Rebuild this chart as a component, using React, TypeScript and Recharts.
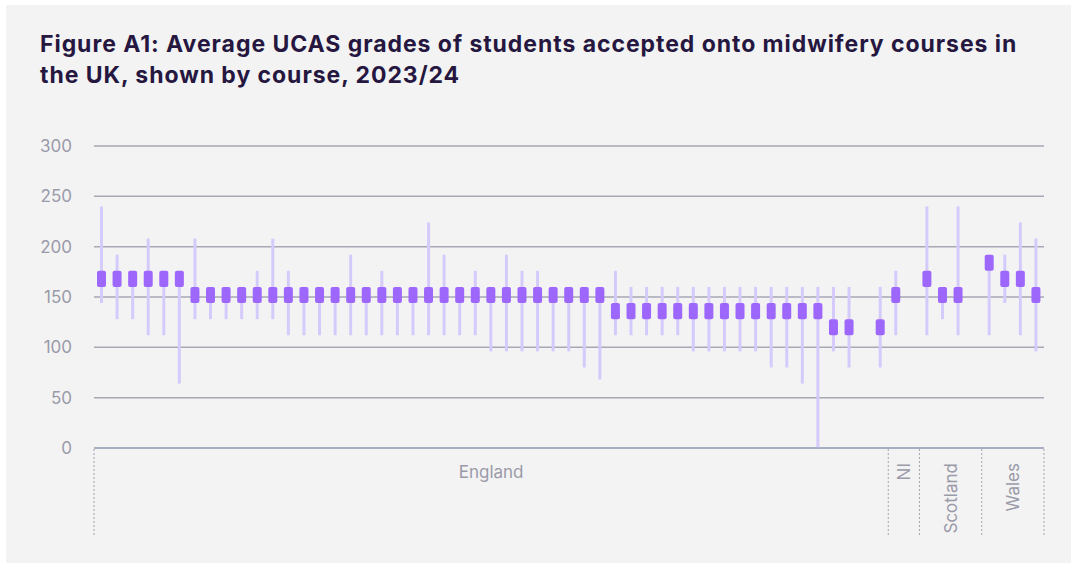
import React from "react";
import { ComposedChart, Bar, XAxis, YAxis, CartesianGrid } from "recharts";

// ---- Data ----
const courses: string[] = Array.from({ length: 61 }, (_, i) => `C${i + 1}`);

const boxLow: (number | null)[] = [
  160, 160, 160, 160, 160, 160,
  144, 144, 144, 144, 144, 144, 144, 144, 144, 144,
  144, 144, 144, 144, 144, 144, 144, 144, 144, 144,
  144, 144, 144, 144, 144, 144, 144,
  128, 128, 128, 128, 128, 128, 128, 128, 128, 128, 128, 128, 128, 128,
  112, 112, null, 112,
  144, null,
  160, 144, 144, null,
  176, 160, 160, 144,
];
const boxHigh: (number | null)[] = [
  176, 176, 176, 176, 176, 176,
  160, 160, 160, 160, 160, 160, 160, 160, 160, 160,
  160, 160, 160, 160, 160, 160, 160, 160, 160, 160,
  160, 160, 160, 160, 160, 160, 160,
  144, 144, 144, 144, 144, 144, 144, 144, 144, 144, 144, 144, 144, 144,
  128, 128, null, 128,
  160, null,
  176, 160, 160, null,
  192, 176, 176, 160,
];
const whiskerLow: (number | null)[] = [
  144, 128, 128, 112, 112, 64,
  128, 128, 128, 128, 128, 128, 112, 112, 112, 112,
  112, 112, 112, 112, 112, 112, 112, 112, 112, 96,
  96, 96, 96, 96, 96, 80, 68,
  112, 112, 112, 112, 112, 96, 96, 96, 96, 96, 80, 80, 64, 0,
  96, 80, null, 80,
  112, null,
  112, 128, 112, null,
  112, 144, 112, 96,
];
const whiskerHigh: (number | null)[] = [
  240, 192, 176, 208, 176, 176,
  208, 160, 160, 160, 176, 208, 176, 160, 160, 160,
  192, 160, 176, 160, 160, 224, 192, 160, 176, 160,
  192, 176, 176, 160, 160, 160, 160,
  176, 160, 160, 160, 160, 160, 160, 160, 160, 160, 160, 160, 160, 160,
  160, 160, null, 160,
  176, null,
  240, 160, 240, null,
  192, 192, 224, 208,
];

const yTicks = [0, 50, 100, 150, 200, 250, 300];

const groupNames = ["England", "NI", "Scotland", "Wales"];
const groupStart = [0, 51, 53, 57];
const groupEnd = [50, 52, 56, 60];

const titleLine1 = "Figure A1: Average UCAS grades of students accepted onto midwifery courses in";
const titleLine2 = "the UK, shown by course, 2023/24";

// ---- Styles ----
const FONT = "Inter, 'DejaVu Sans', sans-serif";
const BOX_COLOR = "#9e67fc";
const WHISKER_COLOR = "#d5cafc";
const LABEL_COLOR = "#9a9aa9";
const GRID_COLOR = "#a7a7b5";
const AXIS_COLOR = "#a3abc3";
const SEP_COLOR = "#a4a4ac";

const data = courses.map((c, i) => ({
  course: c,
  box: boxLow[i] == null ? null : [boxLow[i], boxHigh[i]],
  whisker: whiskerLow[i] == null ? null : [whiskerLow[i], whiskerHigh[i]],
}));

const GroupTick = (props: any) => {
  const { x, y, payload } = props;
  const index: number = props.index ?? payload?.index ?? 0;
  const half: number = payload && payload.offset > 0 ? payload.offset : 7.79;
  const els: React.ReactNode[] = [];
  const sepTop = y + 1;
  const sepBottom = y + 87;
  groupStart.forEach((s, g) => {
    if (index === s) {
      els.push(
        <line key={`s${g}`} x1={x - half} x2={x - half} y1={sepTop} y2={sepBottom}
          stroke={SEP_COLOR} strokeWidth={1} strokeDasharray="2 2" />
      );
    }
    if (index === groupEnd[g] && g === groupStart.length - 1) {
      els.push(
        <line key={`e${g}`} x1={x + half} x2={x + half} y1={sepTop} y2={sepBottom}
          stroke={SEP_COLOR} strokeWidth={1} strokeDasharray="2 2" />
      );
    }
    const sum = groupStart[g] + groupEnd[g];
    const centerIdx = Math.floor(sum / 2);
    if (index === centerIdx) {
      const cx = sum % 2 === 0 ? x : x + half;
      if (g === 0) {
        els.push(
          <text key={`l${g}`} x={cx} y={y + 30} textAnchor="middle" fill={LABEL_COLOR}
            fontSize={17} fontFamily={FONT}>{groupNames[g]}</text>
        );
      } else {
        const bx = cx + 6;
        const ty = y + 15;
        els.push(
          <text key={`l${g}`} x={bx} y={ty} textAnchor="end" fill={LABEL_COLOR}
            fontSize={17} fontFamily={FONT} transform={`rotate(-90, ${bx}, ${ty})`}>{groupNames[g]}</text>
        );
      }
    }
  });
  return <g>{els}</g>;
};

export default function App() {
  return (
    <div style={{ position: "absolute", left: 0, top: 0, width: 1071, height: 563, background: "#ffffff", overflow: "hidden", fontFamily: FONT }}>
      <div style={{ position: "absolute", left: 6, top: 5, width: 1065, height: 558, background: "#f3f3f3" }} />
      <div style={{ position: "absolute", left: 40, top: 29, fontSize: 23, lineHeight: "31px", fontWeight: 700, letterSpacing: "0.95px", color: "#25173f", whiteSpace: "nowrap", fontFamily: FONT }}>
        {titleLine1}
        <br />
        {titleLine2}
      </div>
      <div style={{ position: "absolute", left: 0, top: 0 }}>
        <ComposedChart width={1071} height={563} data={data}
          margin={{ top: 146, right: 27, bottom: 25, left: 0 }}>
          <CartesianGrid vertical={false} stroke={GRID_COLOR} strokeWidth={1.5} />
          <YAxis domain={[0, 300]} ticks={yTicks} axisLine={false} tickLine={false}
            tickSize={0} tickMargin={22} width={94} interval={0}
            tick={{ fill: LABEL_COLOR, fontSize: 17, fontFamily: FONT }} />
          <XAxis dataKey="course" height={90} interval={0} tickLine={false} tickSize={0} tickMargin={0}
            axisLine={{ stroke: AXIS_COLOR, strokeWidth: 1.5 }} tick={<GroupTick />} />
          <XAxis dataKey="course" xAxisId="w" hide />
          <Bar dataKey="whisker" xAxisId="w" barSize={3} fill={WHISKER_COLOR} isAnimationActive={false} />
          <Bar dataKey="box" barSize={9} fill={BOX_COLOR} radius={2} isAnimationActive={false} />
        </ComposedChart>
      </div>
    </div>
  );
}
